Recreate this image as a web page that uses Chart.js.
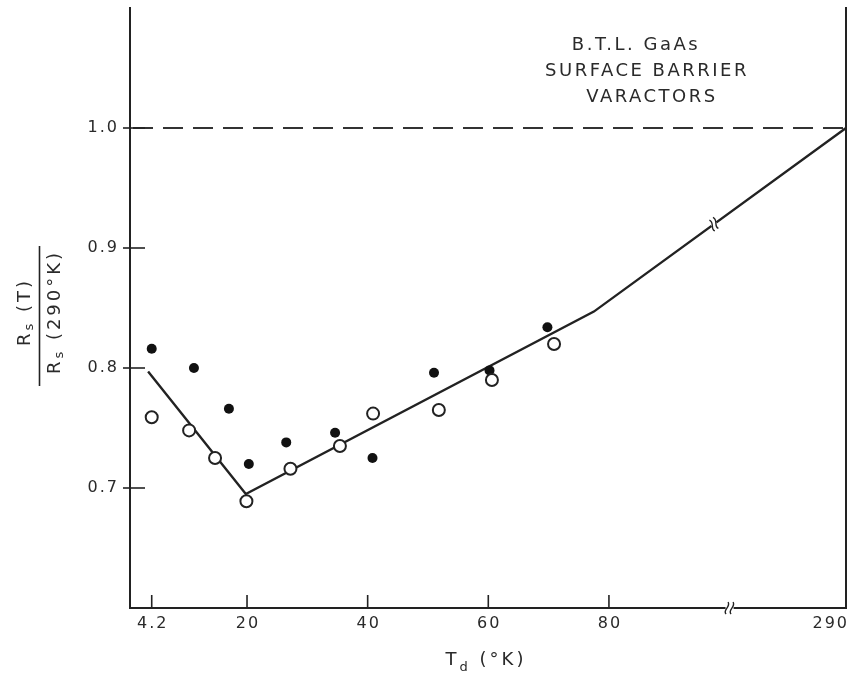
<!DOCTYPE html>
<html>
<head>
<meta charset="utf-8">
<script src="https://cdn.jsdelivr.net/npm/chart.js@4"></script>
<style>
  body { margin: 0; background: #fff; }
  #wrap { width: 855px; height: 679px; }
</style>
</head>
<body>
<div id="wrap"><canvas id="grafico" width="855" height="679"></canvas></div>
<script>
// Td en K (eje partido entre 80 y 290 K), Rs(T)/Rs(290 K)
const solidosT = [4.2, 11.2, 17.0, 20.3, 26.5, 34.6, 40.8, 51.0, 60.2, 69.8];
const solidosR = [0.816, 0.800, 0.766, 0.720, 0.738, 0.746, 0.725, 0.796, 0.798, 0.834];
const abiertosT = [4.2, 10.4, 14.7, 19.9, 27.2, 35.4, 40.9, 51.8, 60.6, 70.9];
const abiertosR = [0.759, 0.748, 0.725, 0.689, 0.716, 0.735, 0.762, 0.765, 0.790, 0.820];
const curvaT = [3.6, 19.8, 77.5, 119.3];
const curvaR = [0.797, 0.695, 0.847, 1.0];
const referenciaR = 1.0;

const xMin = 0.6, xMax = 119.3;   // 290 K queda en el extremo derecho
const xTicks = [4.2, 20, 40, 60, 80, 119.3];
const xTickLabels = ['4.2', '20', '40', '60', '80', '290'];
const yTicks = [0.7, 0.8, 0.9, 1.0];
const xCorte = 100;      // marca de escala partida en el eje
const curvaCorte = 97.4; // marca de escala partida sobre la curva

const TINTA = '#222';
const TEXTO = '#2a2a2a';
const FUENTE = '"DejaVu Sans", sans-serif';

function puntos(xs, ys) {
  return xs.map((x, i) => ({ x: x, y: ys[i] }));
}

// texto con subindice, centrado en (0,0) del contexto actual
function textoConSub(ctx, partes) {
  let total = 0;
  partes.forEach(p => {
    ctx.font = p.size + 'px ' + FUENTE;
    p.w = ctx.measureText(p.t).width;
    total += p.w;
  });
  let x = -total / 2;
  partes.forEach(p => {
    ctx.font = p.size + 'px ' + FUENTE;
    ctx.fillText(p.t, x, p.dy || 0);
    x += p.w;
  });
}

function raya(ctx, x1, y1, x2, y2) {
  ctx.beginPath();
  ctx.moveTo(x1, y1);
  ctx.lineTo(x2, y2);
  ctx.stroke();
}

function sinMargen(s) {
  s.paddingTop = 0;
  s.paddingBottom = 0;
}

const decoracion = {
  id: 'decoracion',
  beforeDraw(chart) {
    chart.ctx.letterSpacing = '2px';
  },
  afterDraw(chart) {
    const ctx = chart.ctx;
    const a = chart.chartArea;
    const x = chart.scales.x, y = chart.scales.y;
    ctx.save();
    ctx.strokeStyle = TINTA;
    ctx.lineWidth = 1.6;

    // marcas de los ejes
    yTicks.forEach(v => {
      const py = y.getPixelForValue(v);
      raya(ctx, a.left - 7, py, a.left + 15, py);
    });
    xTicks.slice(0, -1).forEach(v => {
      const px = x.getPixelForValue(v);
      raya(ctx, px, a.bottom, px, a.bottom - 13);
    });

    // etiquetas del eje x
    ctx.fillStyle = TEXTO;
    ctx.font = '16px ' + FUENTE;
    ctx.letterSpacing = '2px';
    ctx.textBaseline = 'middle';
    xTicks.forEach((v, i) => {
      const px = x.getPixelForValue(v);
      if (i === xTicks.length - 1) {
        ctx.textAlign = 'right';
        ctx.fillText(xTickLabels[i], px + 3, a.bottom + 16);
      } else {
        ctx.textAlign = 'center';
        ctx.fillText(xTickLabels[i], px + 1, a.bottom + 16);
      }
    });

    // escala partida en el eje x
    const bx = x.getPixelForValue(xCorte);
    ctx.fillStyle = '#fff';
    ctx.fillRect(bx - 4, a.bottom - 3, 8, 6);
    ctx.lineWidth = 1.4;
    [-2.5, 2.5].forEach(d => {
      ctx.beginPath();
      ctx.moveTo(bx + d - 1, a.bottom + 6);
      ctx.bezierCurveTo(bx + d - 5, a.bottom + 2, bx + d + 4, a.bottom - 1, bx + d + 1, a.bottom - 6);
      ctx.stroke();
    });

    // escala partida sobre la curva
    const k = curvaT.findIndex(t => t > curvaCorte);
    const p0x = x.getPixelForValue(curvaT[k - 1]), p0y = y.getPixelForValue(curvaR[k - 1]);
    const p1x = x.getPixelForValue(curvaT[k]), p1y = y.getPixelForValue(curvaR[k]);
    const f = (curvaCorte - curvaT[k - 1]) / (curvaT[k] - curvaT[k - 1]);
    const cx = p0x + (p1x - p0x) * f, cy = p0y + (p1y - p0y) * f;
    const ang = Math.atan2(p1y - p0y, p1x - p0x);
    ctx.translate(cx, cy);
    ctx.rotate(ang);
    ctx.fillStyle = '#fff';
    ctx.fillRect(-3, -3, 6, 6);
    [-2.2, 2.2].forEach(d => {
      ctx.beginPath();
      ctx.moveTo(d - 1, 6);
      ctx.bezierCurveTo(d - 4, 2, d + 4, -1, d + 1, -6);
      ctx.stroke();
    });
    ctx.setTransform(1, 0, 0, 1, 0, 0);

    // rotulo
    ctx.fillStyle = TEXTO;
    ctx.font = '18px ' + FUENTE;
    ctx.letterSpacing = '2.5px';
    ctx.textAlign = 'center';
    ctx.fillText('B.T.L. GaAs', 636, 45);
    ctx.fillText('SURFACE BARRIER', 647, 71);
    ctx.fillText('VARACTORS', 652, 97);

    // titulo eje x
    ctx.textAlign = 'left';
    ctx.letterSpacing = '3px';
    ctx.translate(486, 660);
    textoConSub(ctx, [
      { t: 'T', size: 18 },
      { t: 'd', size: 13, dy: 8 },
      { t: ' (°K)', size: 18 }
    ]);
    ctx.setTransform(1, 0, 0, 1, 0, 0);

    // titulo eje y (fraccion)
    ctx.translate(25, 312);
    ctx.rotate(-Math.PI / 2);
    textoConSub(ctx, [
      { t: 'R', size: 18 },
      { t: 's', size: 13, dy: 5 },
      { t: ' (T)', size: 18 }
    ]);
    ctx.setTransform(1, 0, 0, 1, 0, 0);
    ctx.translate(55, 312);
    ctx.rotate(-Math.PI / 2);
    textoConSub(ctx, [
      { t: 'R', size: 18 },
      { t: 's', size: 13, dy: 5 },
      { t: ' (290°K)', size: 18 }
    ]);
    ctx.setTransform(1, 0, 0, 1, 0, 0);
    ctx.lineWidth = 1.6;
    raya(ctx, 39.5, 246, 39.5, 386);

    ctx.restore();
  }
};

const ctx = document.getElementById('grafico').getContext('2d');
new Chart(ctx, {
  type: 'line',
  data: {
    datasets: [
      {
        label: 'abiertos',
        data: puntos(abiertosT, abiertosR),
        showLine: false,
        pointRadius: 6,
        pointBorderWidth: 2,
        pointBackgroundColor: '#fff',
        pointBorderColor: TINTA,
        order: 1
      },
      {
        label: 'solidos',
        data: puntos(solidosT, solidosR),
        showLine: false,
        pointRadius: 5,
        pointBorderWidth: 0,
        pointBackgroundColor: '#111',
        pointBorderColor: '#111',
        order: 2
      },
      {
        label: 'curva',
        data: puntos(curvaT, curvaR),
        borderColor: TINTA,
        borderWidth: 2.4,
        pointRadius: 0,
        tension: 0,
        clip: false,
        order: 3
      },
      {
        label: 'referencia',
        data: [{ x: xMin, y: referenciaR }, { x: xMax, y: referenciaR }],
        borderColor: '#333',
        borderWidth: 2,
        borderDash: [20, 10],
        borderDashOffset: 27,
        pointRadius: 0,
        order: 4
      }
    ]
  },
  options: {
    responsive: false,
    animation: false,
    layout: { padding: { top: 4.7, right: 9, left: 0, bottom: 0 } },
    plugins: {
      legend: { display: false },
      tooltip: { enabled: false }
    },
    scales: {
      x: {
        type: 'linear',
        min: xMin,
        max: xMax,
        grid: { display: false, drawTicks: false },
        border: { color: TINTA, width: 2 },
        ticks: { display: false },
        afterFit(s) { s.height = 71; s.paddingLeft = 0; s.paddingRight = 0; }
      },
      y: {
        min: 0.6,
        max: 1.1,
        grid: { display: false, drawTicks: false },
        border: { color: TINTA, width: 2 },
        afterBuildTicks(s) { s.ticks = yTicks.map(v => ({ value: v })); },
        ticks: {
          padding: 11,
          color: TEXTO,
          font: { family: FUENTE, size: 16 },
          callback: v => v.toFixed(1)
        },
        afterFit(s) { s.width = 130; sinMargen(s); }
      },
      yDer: {
        position: 'right',
        min: 0.6,
        max: 1.1,
        grid: { display: false, drawTicks: false },
        border: { color: TINTA, width: 2 },
        ticks: { display: false },
        afterFit(s) { s.width = 0; sinMargen(s); }
      }
    }
  },
  plugins: [decoracion]
});
</script>
</body>
</html>
